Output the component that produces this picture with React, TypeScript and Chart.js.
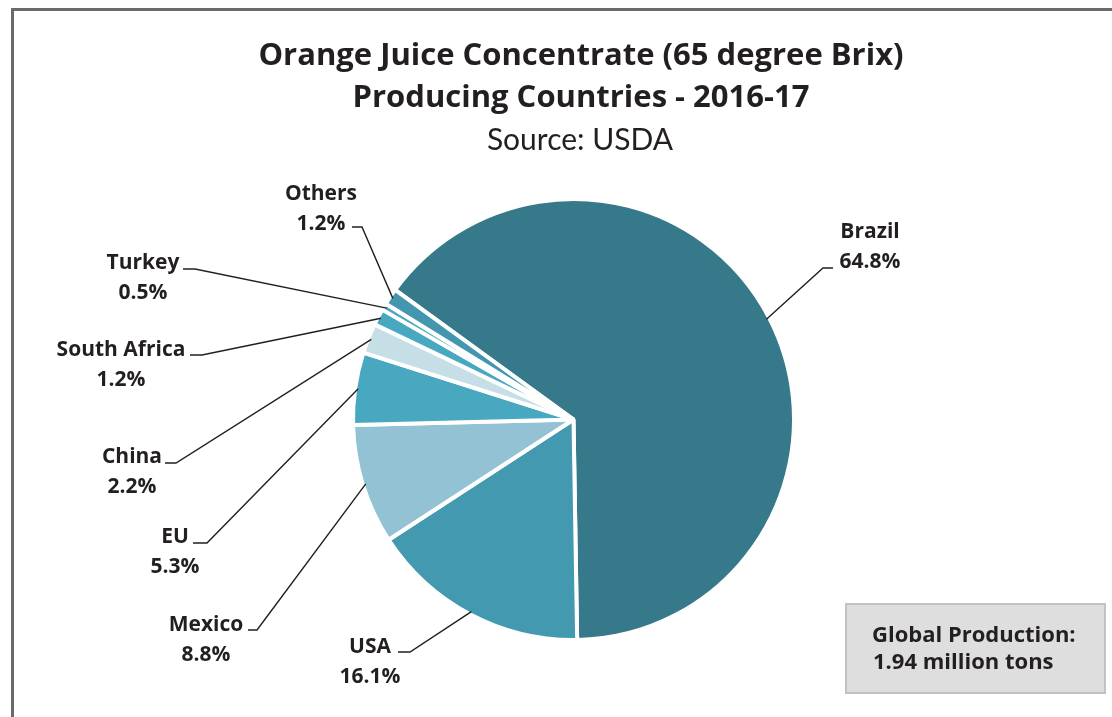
import React, { useEffect, useRef } from 'react';
import { Chart, registerables } from 'chart.js';

Chart.register(...registerables);

const categories = ['Brazil', 'USA', 'Mexico', 'EU', 'China', 'South Africa', 'Turkey', 'Others'];
const shares = [64.8, 16.1, 8.8, 5.3, 2.2, 1.2, 0.5, 1.2];
const sliceColors = ['#35798b', '#4299b0', '#93c2d4', '#48a8c0', '#c6dfe7', '#48a8c0', '#48a8c0', '#4396ad'];
const titleLines = ['Orange Juice Concentrate (65 degree Brix)', 'Producing Countries - 2016-17'];
const subtitleText = 'Source: USDA';
const noteLines = ['Global Production:', '1.94 million tons'];

// annotation layout per category: [textCenterX, nameBaseline, lineY, textSideX, elbowX]
const labelLayout = [
  [870, 238, 268, 833, 823],
  [370, 653, 652, 398, 410],
  [206, 631, 630, 248, 257],
  [175, 543, 543, 193, 207],
  [132, 463, 463, 165, 176],
  [121, 356, 355, 190, 202],
  [143, 269, 269, 183, 195],
  [321, 200, 227, 352, 362],
];

const BOLD = '"Open Sans", Lato, sans-serif';
const REG = 'Lato, "Open Sans", sans-serif';
const TEXT = '#231f20';

const annotations = {
  id: 'annotations',
  afterDraw(chart: any) {
    const ctx = chart.ctx as CanvasRenderingContext2D;
    ctx.save();
    // titles
    ctx.fillStyle = TEXT;
    ctx.textAlign = 'center';
    ctx.textBaseline = 'alphabetic';
    ctx.font = `bold 31px ${BOLD}`;
    ctx.fillText(titleLines[0], 581, 65);
    ctx.fillText(titleLines[1], 581, 107);
    ctx.font = `30px ${REG}`;
    ctx.fillText(subtitleText, 580, 150);

    // slice labels with leader lines
    const meta = chart.getDatasetMeta(0);
    meta.data.forEach((arc: any, i: number) => {
      const p = arc.getProps(['x', 'y', 'startAngle', 'endAngle', 'outerRadius'], true);
      const mid = (p.startAngle + p.endAngle) / 2;
      const r = p.outerRadius - 3;
      const ax = p.x + Math.cos(mid) * r;
      const ay = p.y + Math.sin(mid) * r;
      const [cx, nameY, lineY, sideX, elbowX] = labelLayout[i];
      ctx.strokeStyle = TEXT;
      ctx.lineWidth = 1.4;
      ctx.beginPath();
      ctx.moveTo(sideX, lineY);
      ctx.lineTo(elbowX, lineY);
      ctx.lineTo(ax, ay);
      ctx.stroke();
      ctx.fillStyle = TEXT;
      ctx.font = `bold 21px ${BOLD}`;
      ctx.textAlign = 'center';
      ctx.fillText(categories[i], cx, nameY);
      ctx.fillText(`${shares[i].toFixed(1)}%`, cx, nameY + 30);
    });

    // note box
    ctx.fillStyle = '#dedede';
    ctx.fillRect(846, 604, 259, 89);
    ctx.strokeStyle = '#c2c2c2';
    ctx.lineWidth = 2;
    ctx.strokeRect(846, 604, 259, 89);
    ctx.fillStyle = TEXT;
    ctx.textAlign = 'left';
    ctx.font = `bold 22px ${BOLD}`;
    ctx.fillText(noteLines[0], 872, 642);
    ctx.fillText(noteLines[1], 873, 669);
    ctx.restore();
  },
};

export default function App() {
  const canvasRef = useRef<HTMLCanvasElement | null>(null);

  useEffect(() => {
    if (!canvasRef.current) return;
    const chart = new Chart(canvasRef.current, {
      type: 'pie',
      data: {
        labels: categories,
        datasets: [
          {
            data: shares,
            backgroundColor: sliceColors,
            borderColor: '#ffffff',
            borderWidth: 4,
          },
        ],
      },
      options: {
        responsive: false,
        animation: false,
        rotation: -54,
        layout: { padding: { left: 351, right: 316, top: 197, bottom: 75 } },
        plugins: {
          legend: { display: false },
          title: { display: false },
          tooltip: { enabled: false },
        },
      },
      plugins: [annotations],
    });
    return () => chart.destroy();
  }, []);

  return (
    <div style={{ position: 'fixed', left: 0, top: 0, width: 1112, height: 717, background: '#fff', overflow: 'hidden' }}>
      <div
        style={{
          position: 'absolute',
          left: 11,
          top: 8,
          width: 1200,
          height: 800,
          borderLeft: '3px solid #6a6a6a',
          borderTop: '3px solid #6a6a6a',
        }}
      />
      <canvas ref={canvasRef} width={1112} height={717} style={{ position: 'absolute', left: 0, top: 0 }} />
    </div>
  );
}
